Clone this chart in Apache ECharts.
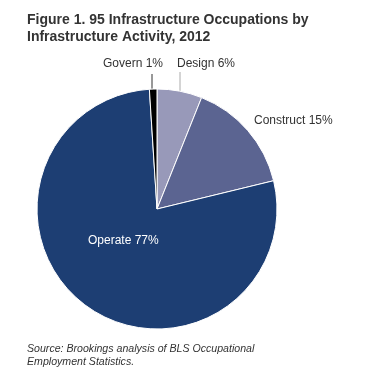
<!DOCTYPE html>
<html><head><meta charset="utf-8">
<script src="https://cdn.jsdelivr.net/npm/echarts@6/dist/echarts.min.js"></script>
<style>html,body{margin:0;padding:0;background:#fff}#c{width:380px;height:380px}</style>
</head><body><div id="c"></div>
<script>
const categories = ['Design', 'Construct', 'Operate', 'Govern'];
const values = [6, 15, 77, 1];
const colors = ['#9899b9', '#5b6491', '#1d3e73', '#000000'];

const chart = echarts.init(document.getElementById('c'), null, {renderer: 'canvas'});
const labelPos = {
  Design: {x: 177, y: 64, align: 'left', line: [[180, 72], [180, 94]]},
  Construct: {x: 254, y: 121, align: 'left'},
  Operate: {x: 88, y: 241, align: 'left'},
  Govern: {x: 103, y: 64, align: 'left', line: [[152, 74], [152, 92]]}
};
chart.setOption({
  animation: false,
  title: [{
    text: 'Figure 1. 95 Infrastructure Occupations by\nInfrastructure Activity, 2012',
    left: 22, top: 7,
    textStyle: {fontFamily: 'Liberation Sans', fontSize: 14, fontWeight: 'bold', color: '#333', lineHeight: 17}
  }, {
    text: 'Source: Brookings analysis of BLS Occupational\nEmployment Statistics.',
    left: 22, top: 338,
    textStyle: {fontFamily: 'Liberation Sans', fontSize: 10.6, fontWeight: 'normal', fontStyle: 'italic', color: '#333', lineHeight: 13}
  }],
  series: [{
    type: 'pie',
    center: [157, 209],
    radius: 120,
    startAngle: 90,
    clockwise: true,
    itemStyle: {borderColor: '#fff', borderWidth: 1},
    label: {formatter: '{b} {c}%', fontFamily: 'Liberation Sans', fontSize: 12, color: '#333', overflow: 'none', width: 150},
    labelLine: {show: true, lineStyle: {width: 1}},
    labelLayout: function (p) {
      const n = categories[p.dataIndex];
      const L = labelPos[n];
      const r = {x: L.x, y: L.y, align: L.align, verticalAlign: 'middle'};
      if (L.line) r.labelLinePoints = L.line;
      return r;
    },
    data: categories.map((c, i) => {
      const d = {name: c, value: values[i], itemStyle: {color: colors[i]}};
      if (c === 'Operate') { d.label = {color: '#fff'}; d.labelLine = {show: false}; }
      else if (c === 'Design') { d.labelLine = {show: true, lineStyle: {color: '#aaaaaa'}}; }
      else if (c === 'Govern') { d.labelLine = {show: true, lineStyle: {color: '#333333'}}; }
      else { d.labelLine = {show: false}; }
      return d;
    })
  }]
});
</script></body></html>
